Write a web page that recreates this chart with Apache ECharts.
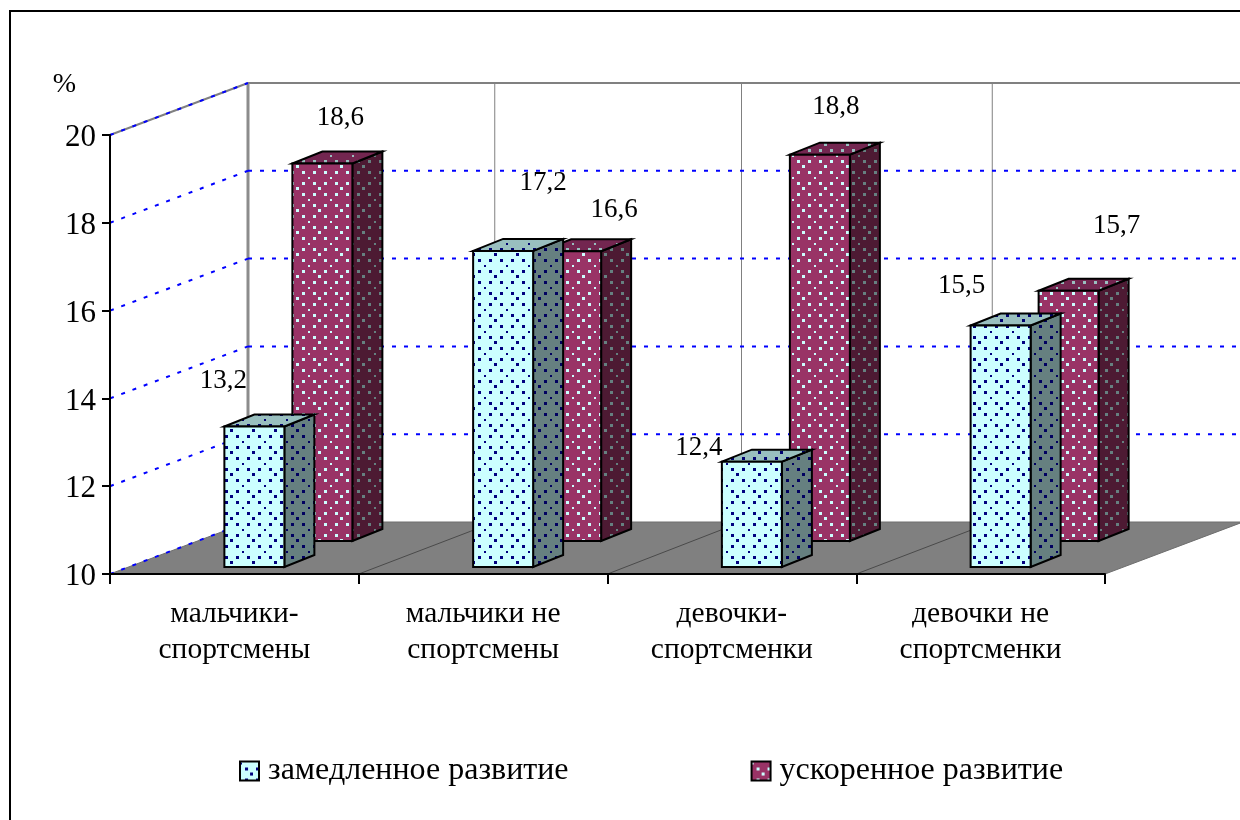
<!DOCTYPE html>
<html>
<head>
<meta charset="utf-8">
<script src="https://cdn.jsdelivr.net/npm/echarts@6/dist/echarts.min.js"></script>
<style>html,body{margin:0;padding:0;background:#fff}#c{width:1240px;height:820px}</style>
</head>
<body>
<div id="c"></div>
<script>
const categories = ['мальчики-\nспортсмены', 'мальчики не\nспортсмены', 'девочки-\nспортсменки', 'девочки не\nспортсменки'];
const seriesSlow = [13.2, 17.2, 12.4, 15.5];
const seriesFast = [18.6, 16.6, 18.8, 15.7];
const yTicks = [10, 12, 14, 16, 18, 20];
const slowName = 'замедленное развитие';
const fastName = 'ускоренное развитие';

// Label placement relative to each bar's front-top centre, as hand placed in the original
const slowLabelOffsets = [[-31, -46], [40, -68], [-53, -14], [-39, -40]];
const fastLabelOffsets = [[18, -46], [43, -41], [16, -48], [48, -65]];
// Small deviation of the back-wall dividers from the regular spacing
const backLineNudge = [-2, -4, -2];

const SERIF = '"Liberation Serif","Times New Roman",serif';
const DEPTH = [138, -52];
const BAR_W = 60, BAR_D = [30, -12];

function tile(bg, dot) {
  const S = 22;
  const c = document.createElement('canvas');
  c.width = S; c.height = S;
  const g = c.getContext('2d');
  g.fillStyle = bg; g.fillRect(0, 0, S, S);
  g.fillStyle = dot;
  const ox = 11, oy = 12;
  [[0, 0], [5.5, 5.5], [16.5, 5.5], [5.5, 16.5], [16.5, 16.5]].forEach(p => {
    const x = Math.round(p[0] + ox) % S, y = Math.round(p[1] + oy) % S;
    g.fillRect(x - 1, y - 1, 3, 3);
  });
  g.fillRect((11 + ox) % S - 1, (11 + oy) % S, 3, 2);
  return { image: c, repeat: 'repeat' };
}
const slowFill = { front: tile('#CCFFFF', '#000080'), side: tile('#668080', '#000060'), top: tile('#99BFBF', '#000070') };
const fastFill = { front: tile('#993366', '#CCFFFF'), side: tile('#4D1A33', '#668080'), top: tile('#732650', '#99BFBF') };

function barItem(fills, values, offsets, shiftX, shiftY) {
  return function (params, api) {
    const i = api.value(0), v = api.value(1);
    const top = api.coord([i, v]), base = api.coord([i, yTicks[0]]);
    const l = top[0] + shiftX, r = l + BAR_W;
    const yT = top[1] + shiftY, yB = base[1] + shiftY;
    const dx = BAR_D[0], dy = BAR_D[1];
    const line = { stroke: '#000', lineWidth: 2, lineJoin: 'miter' };
    const off = offsets[i];
    return {
      type: 'group',
      children: [
        { type: 'polygon', shape: { points: [[r, yT], [r + dx, yT + dy], [r + dx, yB + dy], [r, yB]] }, style: Object.assign({ fill: fills.side }, line) },
        { type: 'polygon', shape: { points: [[l, yT], [l + dx, yT + dy], [r + dx, yT + dy], [r, yT]] }, style: Object.assign({ fill: fills.top }, line) },
        { type: 'rect', shape: { x: l, y: yT, width: BAR_W, height: yB - yT }, style: Object.assign({ fill: fills.front }, line) },
        { type: 'text', z2: 50, style: { text: values[i].toFixed(1).replace('.', ','), x: l + BAR_W / 2 + off[0], y: yT + off[1], align: 'center', verticalAlign: 'middle', font: '27px ' + SERIF, fill: '#000' } }
      ]
    };
  };
}

function wallTick(params, api) {
  const p = api.coord([0, api.value(0)]);
  const cs = params.coordSys;
  const x0 = cs.x, x1 = cs.x + DEPTH[0], y1 = p[1] + DEPTH[1];
  const blue = { stroke: '#0000FF', lineWidth: 2, lineDash: [4, 8], fill: null };
  const kids = [
    { type: 'line', shape: { x1: x0, y1: p[1], x2: x1, y2: y1 }, style: blue }
  ];
  if (api.value(0) !== yTicks[0] && api.value(0) !== yTicks[yTicks.length - 1]) {
    kids.push({ type: 'line', shape: { x1: x1, y1: y1, x2: cs.x + cs.width + DEPTH[0], y2: y1 }, style: blue });
  }
  return { type: 'group', children: kids };
}

function room(params, api) {
  const cs = params.coordSys;
  const b = cs.y + cs.height, t = cs.y, l = cs.x, r = cs.x + cs.width;
  const dx = DEPTH[0], dy = DEPTH[1];
  const gray = { stroke: '#808080', lineWidth: 2, fill: null };
  const kids = [
    { type: 'polygon', shape: { points: [[l, b], [l + dx, b + dy], [r + dx, b + dy], [r, b]] }, style: { fill: '#808080', stroke: '#6e6e6e', lineWidth: 1 } },
    { type: 'line', shape: { x1: l, y1: t, x2: l + dx, y2: t + dy }, style: gray },
    { type: 'line', shape: { x1: l + dx, y1: t + dy, x2: r + dx, y2: t + dy }, style: gray },
    { type: 'line', shape: { x1: l + dx, y1: t + dy, x2: l + dx, y2: b + dy }, style: { stroke: '#8c8c8c', lineWidth: 3 } }
  ];
  for (let k = 1; k < categories.length; k++) {
    const x = l + k * cs.width / categories.length;
    const xb = x + dx + backLineNudge[k - 1];
    kids.push({ type: 'line', shape: { x1: xb, y1: t + dy, x2: xb, y2: b + dy }, style: { stroke: '#808080', lineWidth: 1 } });
    kids.push({ type: 'line', shape: { x1: x, y1: b, x2: xb, y2: b + dy }, style: { stroke: '#4a4a4a', lineWidth: 1 } });
  }
  return { type: 'group', children: kids };
}

const chart = echarts.init(document.getElementById('c'), null, { renderer: 'canvas' });
chart.setOption({
  animation: false,
  backgroundColor: '#fff',
  grid: { left: 110, top: 135, width: 995, height: 439 },
  graphic: [{
    type: 'polyline', silent: true, z: 100,
    shape: { points: [[10, 820], [10, 11], [1240, 11]] },
    style: { stroke: '#000', lineWidth: 2, fill: null }
  }],
  legend: {
    left: 239, top: 755, padding: 0, icon: 'rect', itemWidth: 19, itemHeight: 19, itemGap: 182,
    data: [slowName, fastName], selectedMode: false,
    textStyle: { fontFamily: SERIF, fontSize: 32, color: '#000', padding: [4, 0, 0, 4] }
  },
  xAxis: {
    type: 'category', data: categories, z: 20,
    axisLine: { show: true, lineStyle: { color: '#000', width: 2 } },
    axisTick: { show: true, alignWithLabel: false, length: 10, lineStyle: { color: '#000', width: 2 } },
    axisLabel: { fontFamily: SERIF, fontSize: 29.5, color: '#000', lineHeight: 36, margin: 22, interval: 0 },
    splitLine: { show: false }
  },
  yAxis: {
    type: 'value', min: 10, max: 20, interval: 2, z: 20,
    name: '%', nameLocation: 'end', nameGap: 36,
    nameTextStyle: { fontFamily: SERIF, fontSize: 28, color: '#000', align: 'right', padding: [0, 34, 0, 0] },
    axisLine: { show: true, onZero: false, lineStyle: { color: '#000', width: 2 } },
    axisTick: { show: true, length: 8, lineStyle: { color: '#000', width: 2 } },
    axisLabel: {
      margin: 14, formatter: v => '{t|' + v + '}',
      rich: { t: { fontFamily: SERIF, fontSize: 31, color: '#000', padding: [6, 0, 0, 0] } }
    },
    splitLine: { show: false }
  },
  series: [
    { type: 'custom', name: 'room', coordinateSystem: 'cartesian2d', renderItem: room, data: [[0, 10]], z: 1, silent: true },
    { type: 'custom', name: 'grid', coordinateSystem: 'cartesian2d', renderItem: wallTick, data: yTicks.map(v => [v]), encode: { y: 0 }, z: 2, silent: true },
    { type: 'custom', name: fastName, coordinateSystem: 'cartesian2d', z: 3, silent: true,
      renderItem: barItem(fastFill, seriesFast, fastLabelOffsets, 58, -33),
      itemStyle: { color: fastFill.front, borderColor: '#000', borderWidth: 2 },
      data: seriesFast.map((v, i) => [i, v]) },
    { type: 'custom', name: slowName, coordinateSystem: 'cartesian2d', z: 4, silent: true,
      renderItem: barItem(slowFill, seriesSlow, slowLabelOffsets, -10, -7),
      itemStyle: { color: slowFill.front, borderColor: '#000', borderWidth: 2 },
      data: seriesSlow.map((v, i) => [i, v]) }
  ]
});
</script>
</body>
</html>
